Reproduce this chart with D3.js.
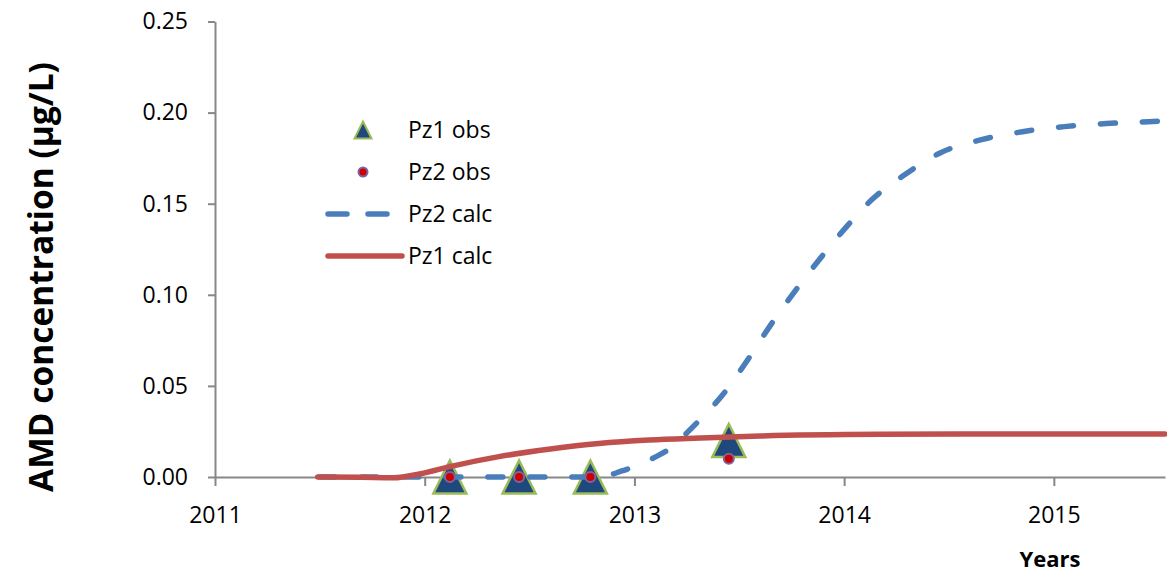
<!DOCTYPE html>
<html>
<head>
<meta charset="utf-8">
<script src="https://cdn.jsdelivr.net/npm/d3@7"></script>
<style>
  body { margin: 0; background: #fff; }
  text { font-family: "Open Sans", sans-serif; fill: #000; }
</style>
</head>
<body>
<div id="my_dataviz"></div>
<script>
// Observed points (years, µg/L)
const obsYears = [2012.12, 2012.45, 2012.79, 2013.45];
const pz1Obs = [0, 0, 0, 0.02];
const pz2Obs = [0, 0, 0, 0.01];

// Calculated curves
const pz2CalcYears = [2011.5, 2012.0, 2012.5, 2012.83, 2012.94, 2013.09, 2013.18, 2013.25, 2013.32, 2013.42,
  2013.54, 2013.65, 2013.77, 2013.9, 2014.02, 2014.13, 2014.29, 2014.46, 2014.65, 2014.85, 2015.05, 2015.25, 2015.45, 2015.53];
const pz2Calc = [0, 0, 0, 0, 0.0033, 0.0104, 0.0165, 0.0242, 0.0324, 0.045,
  0.0643, 0.0835, 0.1027, 0.122, 0.1385, 0.152, 0.166, 0.178, 0.185, 0.1895, 0.1923, 0.194, 0.195, 0.1955];

const pz1CalcYears = [2011.49, 2011.7, 2011.85, 2011.98, 2012.12, 2012.36, 2012.6, 2012.83, 2013.07, 2013.31, 2013.6, 2014.17, 2014.75, 2015.53];
const pz1Calc = [0, -0.0002, -0.0004, 0.0018, 0.0057, 0.0113, 0.0154, 0.0184, 0.0203, 0.0214, 0.0225, 0.0234, 0.0236, 0.0236];

const xTicks = [2011, 2012, 2013, 2014, 2015];
const yTicks = [0, 0.05, 0.10, 0.15, 0.20, 0.25];
const legendNames = ["Pz1 obs", "Pz2 obs", "Pz2 calc", "Pz1 calc"];

const margin = { top: 21.5, right: 2, bottom: 97, left: 215 },
    width = 1167 - margin.left - margin.right,
    height = 574 - margin.top - margin.bottom;

const svg = d3.select("#my_dataviz")
  .append("svg")
    .attr("width", 1167)
    .attr("height", 574)
  .append("g")
    .attr("transform", `translate(${margin.left},${margin.top})`);

const x = d3.scaleLinear()
    .domain([2011, 2015.53])
    .range([0, width]);

const y = d3.scaleLinear()
    .domain([0, 0.25])
    .range([height, 0]);

// X axis
const xAxis = svg.append("g")
    .attr("transform", `translate(0,${height})`)
    .call(d3.axisBottom(x).tickValues(xTicks).tickFormat(d3.format("d"))
      .tickSize(9).tickSizeOuter(0).tickPadding(21));

// Y axis
const yAxis = svg.append("g")
    .call(d3.axisLeft(y).tickValues(yTicks).tickFormat(d3.format(".2f"))
      .tickSize(7).tickSizeOuter(0).tickPadding(20));

[xAxis, yAxis].forEach(a => {
  a.selectAll("path, line").attr("stroke", "#878787").attr("stroke-width", 2);
  a.selectAll("text").style("font-size", "23px").style("font-family", "'Open Sans', sans-serif").attr("fill", "#000");
});

// Axis titles
svg.append("text")
    .attr("transform", "rotate(-90)")
    .attr("x", -(277 - margin.top))
    .attr("y", 53 - margin.left)
    .attr("text-anchor", "middle")
    .style("font-size", "33.5px")
    .style("font-weight", "bold")
    .text("AMD concentration (µg/L)");

svg.append("text")
    .attr("x", 1050 - margin.left)
    .attr("y", 567 - margin.top)
    .attr("text-anchor", "middle")
    .style("font-size", "22px")
    .style("font-weight", "bold")
    .text("Years");

const line = d3.line()
    .x(d => x(d[0]))
    .y(d => y(d[1]))
    .curve(d3.curveMonotoneX);

const triangle = s => `M0,${-s / 2}L${s / 2},${s / 2}L${-s / 2},${s / 2}Z`;

// Pz1 obs triangles
svg.append("g")
  .selectAll("path")
  .data(obsYears.map((t, i) => [t, pz1Obs[i]]))
  .join("path")
    .attr("d", triangle(33))
    .attr("transform", d => `translate(${x(d[0])},${y(d[1])})`)
    .attr("fill", "#1f497d")
    .attr("stroke", "#9bbb59")
    .attr("stroke-width", 2.5)
    .attr("stroke-linejoin", "miter");

// Pz2 calc (dashed blue)
svg.append("path")
    .datum(pz2CalcYears.map((t, i) => [t, pz2Calc[i]]))
    .attr("d", line)
    .attr("fill", "none")
    .attr("stroke", "#4a7ebb")
    .attr("stroke-width", 5.5)
    .attr("stroke-linecap", "round")
    .attr("stroke-dasharray", "15,27");

// Pz1 calc (solid red)
svg.append("path")
    .datum(pz1CalcYears.map((t, i) => [t, pz1Calc[i]]))
    .attr("d", line)
    .attr("fill", "none")
    .attr("stroke", "#c0504d")
    .attr("stroke-width", 5.5)
    .attr("stroke-linecap", "round");

// Pz2 obs circles
svg.append("g")
  .selectAll("circle")
  .data(obsYears.map((t, i) => [t, pz2Obs[i]]))
  .join("circle")
    .attr("cx", d => x(d[0]))
    .attr("cy", d => y(d[1]))
    .attr("r", 5)
    .attr("fill", "#cc0000")
    .attr("stroke", "#8064a2")
    .attr("stroke-width", 2);

// Legend
const legend = svg.append("g")
    .attr("transform", `translate(${326 - margin.left},${130 - margin.top})`);

const rows = legend.selectAll("g")
  .data(legendNames)
  .join("g")
    .attr("transform", (d, i) => `translate(0,${i * 42})`);

rows.append("text")
    .attr("x", 82)
    .attr("dy", "0.36em")
    .style("font-size", "23px")
    .text(d => d);

legend.append("path")
    .attr("d", triangle(17))
    .attr("transform", "translate(37,0)")
    .attr("fill", "#1f497d")
    .attr("stroke", "#9bbb59")
    .attr("stroke-width", 2);

legend.append("circle")
    .attr("cx", 37).attr("cy", 42).attr("r", 4.5)
    .attr("fill", "#cc0000")
    .attr("stroke", "#8064a2")
    .attr("stroke-width", 2);

legend.append("line")
    .attr("x1", 2).attr("x2", 66).attr("y1", 84).attr("y2", 84)
    .attr("stroke", "#4a7ebb").attr("stroke-width", 5.5)
    .attr("stroke-linecap", "round").attr("stroke-dasharray", "19,21");

legend.append("line")
    .attr("x1", 2).attr("x2", 76).attr("y1", 126).attr("y2", 126)
    .attr("stroke", "#c0504d").attr("stroke-width", 5.5)
    .attr("stroke-linecap", "round");
</script>
</body>
</html>
